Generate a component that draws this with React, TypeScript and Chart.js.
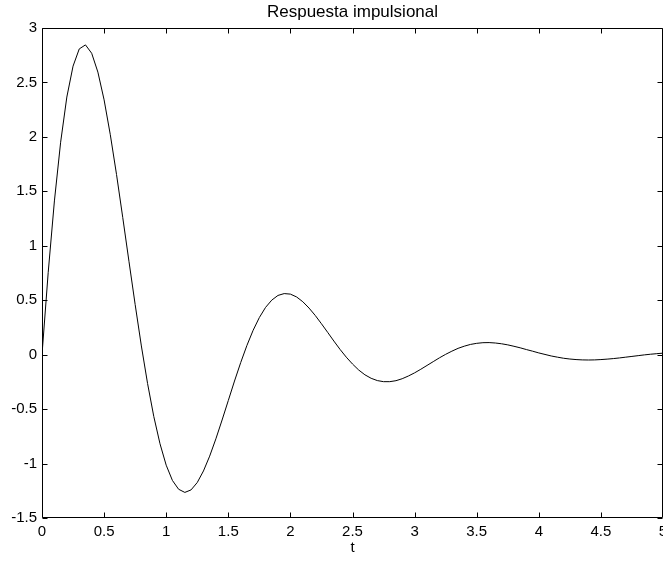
import { useEffect, useRef } from "react";
import { Chart, registerables } from "chart.js";

Chart.register(...registerables);

const TITLE = "Respuesta impulsional";
const X_LABEL = "t";

const T_VALUES = [
  0, 0.05, 0.1, 0.15, 0.2, 0.25, 0.3, 0.35, 0.4, 0.45,
  0.5, 0.55, 0.6, 0.65, 0.7, 0.75, 0.8, 0.85, 0.9, 0.95,
  1, 1.05, 1.1, 1.15, 1.2, 1.25, 1.3, 1.35, 1.4, 1.45,
  1.5, 1.55, 1.6, 1.65, 1.7, 1.75, 1.8, 1.85, 1.9, 1.95,
  2, 2.05, 2.1, 2.15, 2.2, 2.25, 2.3, 2.35, 2.4, 2.45,
  2.5, 2.55, 2.6, 2.65, 2.7, 2.75, 2.8, 2.85, 2.9, 2.95,
  3, 3.05, 3.1, 3.15, 3.2, 3.25, 3.3, 3.35, 3.4, 3.45,
  3.5, 3.55, 3.6, 3.65, 3.7, 3.75, 3.8, 3.85, 3.9, 3.95,
  4, 4.05, 4.1, 4.15, 4.2, 4.25, 4.3, 4.35, 4.4, 4.45,
  4.5, 4.55, 4.6, 4.65, 4.7, 4.75, 4.8, 4.85, 4.9, 4.95,
  5,
];

const Y_VALUES = [
  0, 0.756, 1.412, 1.951, 2.366, 2.65, 2.808, 2.845, 2.768, 2.595,
  2.34, 2.02, 1.655, 1.261, 0.858, 0.461, 0.08, -0.265, -0.567, -0.818,
  -1.015, -1.155, -1.236, -1.265, -1.242, -1.174, -1.068, -0.932, -0.773, -0.6,
  -0.421, -0.242, -0.072, 0.085, 0.224, 0.341, 0.434, 0.501, 0.544, 0.561,
  0.556, 0.53, 0.486, 0.428, 0.36, 0.284, 0.205, 0.125, 0.048, -0.023,
  -0.086, -0.141, -0.185, -0.217, -0.238, -0.248, -0.248, -0.239, -0.221, -0.196,
  -0.167, -0.134, -0.099, -0.064, -0.029, 0.003, 0.032, 0.058, 0.078, 0.094,
  0.104, 0.11, 0.111, 0.107, 0.1, 0.09, 0.077, 0.063, 0.047, 0.032,
  0.016, 0.002, -0.012, -0.023, -0.033, -0.04, -0.045, -0.048, -0.049, -0.048,
  -0.045, -0.041, -0.036, -0.03, -0.023, -0.016, -0.009, -0.002, 0.004, 0.009,
  0.014,
];

const X_TICKS = [0, 0.5, 1, 1.5, 2, 2.5, 3, 3.5, 4, 4.5, 5];
const X_TICK_LABELS = ["0", "0.5", "1", "1.5", "2", "2.5", "3", "3.5", "4", "4.5", "5"];
const Y_TICKS = [-1.5, -1, -0.5, 0, 0.5, 1, 1.5, 2, 2.5, 3];
const Y_TICK_LABELS = ["-1.5", "-1", "-0.5", "0", "0.5", "1", "1.5", "2", "2.5", "3"];

const FONT_FAMILY = "'Liberation Sans', Arial, Helvetica, sans-serif";
const TICK_LEN = 5;

const boxTicksPlugin = {
  id: "boxTicks",
  afterDraw(chart: any) {
    const { ctx, chartArea, scales } = chart;
    const xs = scales.x;
    const ys = scales.y;
    const L = Math.round(chartArea.left) + 0.5;
    const R = Math.round(chartArea.right) - 0.5;
    const T = Math.round(chartArea.top) + 0.5;
    const B = Math.round(chartArea.bottom) - 0.5;
    ctx.save();
    ctx.strokeStyle = "#000";
    ctx.lineWidth = 1;
    ctx.beginPath();
    ctx.rect(L, T, R - L, B - T);
    for (const v of X_TICKS) {
      const px = Math.round(xs.getPixelForValue(v)) + 0.5;
      ctx.moveTo(px, B);
      ctx.lineTo(px, B - TICK_LEN);
      ctx.moveTo(px, T);
      ctx.lineTo(px, T + TICK_LEN);
    }
    for (const v of Y_TICKS) {
      const py = Math.round(ys.getPixelForValue(v)) + 0.5;
      ctx.moveTo(L, py);
      ctx.lineTo(L + TICK_LEN, py);
      ctx.moveTo(R, py);
      ctx.lineTo(R - TICK_LEN, py);
    }
    ctx.stroke();
    ctx.restore();
  },
};

export default function App() {
  const canvasRef = useRef<HTMLCanvasElement | null>(null);

  useEffect(() => {
    const canvas = canvasRef.current;
    if (!canvas) return;
    const points = T_VALUES.map((t, i) => ({ x: t, y: Y_VALUES[i] }));
    const chart = new Chart(canvas, {
      type: "line",
      data: {
        datasets: [
          {
            data: points,
            borderColor: "#000",
            borderWidth: 1,
            pointRadius: 0,
            tension: 0,
            fill: false,
          },
        ],
      },
      options: {
        animation: false,
        responsive: false,
        devicePixelRatio: 1,
        layout: { padding: 0 },
        plugins: {
          legend: { display: false },
          tooltip: { enabled: false },
          title: {
            display: true,
            text: TITLE,
            fullSize: false,
            color: "#000",
            font: { family: FONT_FAMILY, size: 17, weight: "normal", lineHeight: 1.2 },
            padding: { top: 2, bottom: 5.6 },
          },
        },
        scales: {
          x: {
            type: "linear",
            min: 0,
            max: 5,
            afterBuildTicks: (scale: any) => {
              scale.ticks = X_TICKS.map((v) => ({ value: v }));
            },
            afterFit: (scale: any) => {
              scale.height = 44;
              scale.paddingLeft = 0;
              scale.paddingRight = 0;
            },
            grid: { display: false, drawTicks: false },
            border: { display: false },
            ticks: {
              color: "#000",
              padding: 5,
              maxRotation: 0,
              autoSkip: false,
              font: { family: FONT_FAMILY, size: 15 },
              callback: (_v: any, i: number) => X_TICK_LABELS[i],
            },
            title: {
              display: true,
              text: X_LABEL,
              color: "#000",
              font: { family: FONT_FAMILY, size: 15 },
              padding: { top: 0, bottom: 5 },
            },
          },
          y: {
            type: "linear",
            min: -1.5,
            max: 3,
            afterBuildTicks: (scale: any) => {
              scale.ticks = Y_TICKS.map((v) => ({ value: v }));
            },
            afterFit: (scale: any) => {
              scale.width = 42;
              scale.paddingTop = 0;
              scale.paddingBottom = 0;
            },
            grid: { display: false, drawTicks: false },
            border: { display: false },
            ticks: {
              color: "#000",
              padding: 5,
              autoSkip: false,
              font: { family: FONT_FAMILY, size: 15 },
              callback: (_v: any, i: number) => Y_TICK_LABELS[i],
            },
          },
        },
      },
      plugins: [boxTicksPlugin],
    });
    return () => chart.destroy();
  }, []);

  return (
    <div style={{ position: "fixed", left: 0, top: 0, width: 663, height: 562, background: "#fff" }}>
      <canvas ref={canvasRef} width={663} height={562} style={{ display: "block", width: 663, height: 562 }} />
    </div>
  );
}
